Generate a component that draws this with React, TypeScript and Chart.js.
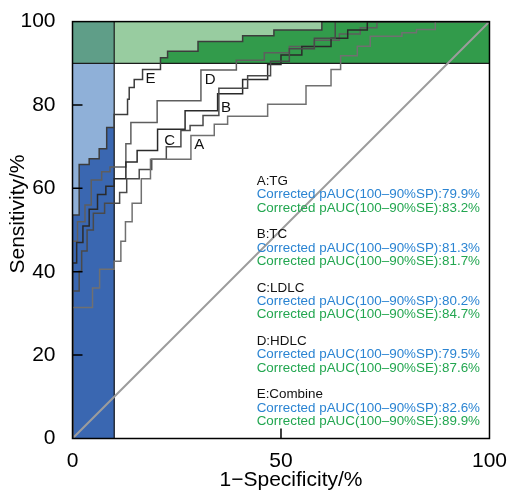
import { useEffect, useRef } from 'react';
import { Chart, registerables } from 'chart.js';
Chart.register(...registerables);

// ROC step points (1-Specificity %, Sensitivity %)
const aFpr = [0, 4.8, 6.5, 10, 11.6, 12.7, 14.3, 16.5, 18.7, 28.4, 34, 37.2, 46.8, 56, 62, 64.3, 68.3, 71.4, 79, 82.5, 87, 100];
const aTpr = [31.4, 36.1, 40.6, 42.5, 47.3, 52, 56.4, 62.3, 67, 72.7, 75.4, 77.3, 80.2, 84.6, 88.5, 91.8, 94.1, 96.5, 97.3, 98.1, 100, 100];

const bFpr = [0, 1.6, 2.2, 3.5, 5, 7.7, 11.3, 13, 16, 19, 22.5, 26, 28.2, 31.3, 35.1, 42, 47.5, 52, 58, 63, 100];
const bTpr = [35.4, 40.1, 45, 50, 54, 56.4, 59, 62.3, 64.5, 67, 70, 73.9, 75.1, 77.5, 84, 87, 90.5, 93.5, 96, 100, 100];

const cFpr = [0, 1, 2.5, 4, 6, 8, 10, 12.8, 15.5, 20.4, 27, 34.8, 40.8, 46.8, 50, 55, 62, 66, 70.7, 100];
const cTpr = [42.1, 47, 51, 55, 58.5, 60.5, 62.3, 66.3, 69.1, 74.2, 78.6, 82.7, 86.1, 89.7, 92, 94, 96, 98, 100, 100];

const dFpr = [0, 1.2, 3, 4.5, 7, 9, 12.8, 14, 20.3, 30.8, 39.3, 46, 52, 58, 64, 69, 73, 100];
const dTpr = [47.3, 52, 56, 62, 64, 65.1, 70.7, 75.8, 81, 88.4, 90.7, 92.5, 94, 95.5, 97, 98.5, 100, 100];

const eFpr = [0, 1.6, 4, 6.4, 8.2, 10, 13.2, 13.6, 14.8, 16.8, 21.1, 22.8, 30.1, 40.8, 48.3, 59.8, 100];
const eTpr = [53.6, 65.7, 67.1, 69.5, 74.6, 77.7, 81.4, 84.2, 86.1, 88.5, 91.3, 92.9, 95.2, 96.6, 98, 100, 100];

const curveLetters = ['A', 'B', 'C', 'D', 'E'];
const curveNames = ['A:TG', 'B:TC', 'C:LDLC', 'D:HDLC', 'E:Combine'];
const spPauc = ['79.9', '81.3', '80.2', '79.5', '82.6'];
const sePauc = ['83.2', '81.7', '84.7', '87.6', '89.9'];
// letter anchor (data coords) for each curve label
const letterX = [30.4, 36.8, 23.3, 33.0, 18.7];
const letterY = [70.5, 79.3, 71.4, 86.0, 86.2];

const xTicks = [0, 50, 100];
const yTicks = [0, 20, 40, 60, 80, 100];
const spRange = [0, 10];   // 100-90% specificity -> x 0..10
const seRange = [90, 100]; // 100-90% sensitivity -> y 90..100

const lineColors = ['#707070', '#4a4a4a', '#2a2a2a', '#5e5e5e', '#3c3c3c'];
const LIGHT_BLUE = '#8fb0d8';
const DARK_BLUE = '#3a67b1';
const LIGHT_GREEN = '#98cca0';
const DARK_GREEN = '#329b4b';
const TEAL = '#5f9e88';
const TXT_BLUE = '#2a84d2';
const TXT_GREEN = '#22a650';
const FONT = "'Liberation Sans', Arial, Helvetica, sans-serif";

function steps(fpr: number[], tpr: number[]) {
  const pts: { x: number; y: number }[] = [{ x: 0, y: 0 }];
  let prev = 0;
  for (let i = 0; i < fpr.length; i++) {
    pts.push({ x: fpr[i], y: prev });
    pts.push({ x: fpr[i], y: tpr[i] });
    prev = tpr[i];
  }
  return pts;
}

const curves = [
  steps(aFpr, aTpr),
  steps(bFpr, bTpr),
  steps(cFpr, cTpr),
  steps(dFpr, dTpr),
  steps(eFpr, eTpr),
];

const bgPlugin = {
  id: 'pauc',
  beforeDatasetsDraw(chart: any) {
    const { ctx, scales } = chart;
    const X = (v: number) => scales.x.getPixelForValue(v);
    const Y = (v: number) => scales.y.getPixelForValue(v);
    ctx.save();
    ctx.fillStyle = LIGHT_BLUE;
    ctx.fillRect(X(spRange[0]), Y(100), X(spRange[1]) - X(spRange[0]), Y(0) - Y(100));
    ctx.fillStyle = LIGHT_GREEN;
    ctx.fillRect(X(0), Y(seRange[1]), X(100) - X(0), Y(seRange[0]) - Y(seRange[1]));
    ctx.fillStyle = TEAL;
    ctx.fillRect(X(spRange[0]), Y(seRange[1]), X(spRange[1]) - X(spRange[0]), Y(seRange[0]) - Y(seRange[1]));

    const underPath = (pts: { x: number; y: number }[]) => {
      ctx.beginPath();
      ctx.moveTo(X(0), Y(0));
      pts.forEach((p) => ctx.lineTo(X(p.x), Y(p.y)));
      ctx.lineTo(X(100), Y(0));
      ctx.closePath();
    };
    curves.forEach((pts) => {
      ctx.save();
      ctx.beginPath();
      ctx.rect(X(spRange[0]), Y(100), X(spRange[1]) - X(spRange[0]), Y(0) - Y(100));
      ctx.clip();
      underPath(pts);
      ctx.fillStyle = DARK_BLUE;
      ctx.fill();
      ctx.restore();

      ctx.save();
      ctx.beginPath();
      ctx.rect(X(0), Y(seRange[1]), X(100) - X(0), Y(seRange[0]) - Y(seRange[1]));
      ctx.clip();
      underPath(pts);
      ctx.fillStyle = DARK_GREEN;
      ctx.fill();
      ctx.restore();
    });

    ctx.strokeStyle = '#1c1c1c';
    ctx.lineWidth = 1.2;
    ctx.beginPath();
    ctx.moveTo(X(spRange[1]), Y(0));
    ctx.lineTo(X(spRange[1]), Y(100));
    ctx.moveTo(X(0), Y(seRange[0]));
    ctx.lineTo(X(100), Y(seRange[0]));
    ctx.stroke();
    ctx.restore();
  },
  afterDraw(chart: any) {
    const { ctx, scales, chartArea } = chart;
    const X = (v: number) => scales.x.getPixelForValue(v);
    const Y = (v: number) => scales.y.getPixelForValue(v);
    ctx.save();
    // frame
    ctx.strokeStyle = '#000';
    ctx.lineWidth = 1.5;
    ctx.strokeRect(chartArea.left, chartArea.top, chartArea.right - chartArea.left, chartArea.bottom - chartArea.top);
    // inward ticks
    ctx.beginPath();
    yTicks.slice(1, -1).forEach((v) => {
      ctx.moveTo(chartArea.left, Y(v));
      ctx.lineTo(chartArea.left + 10, Y(v));
    });
    xTicks.slice(1, -1).forEach((v) => {
      ctx.moveTo(X(v), chartArea.bottom);
      ctx.lineTo(X(v), chartArea.bottom - 10);
    });
    ctx.stroke();

    // curve letters
    ctx.fillStyle = '#111';
    ctx.font = `15px ${FONT}`;
    ctx.textAlign = 'center';
    ctx.textBaseline = 'middle';
    curveLetters.forEach((l, i) => ctx.fillText(l, X(letterX[i]), Y(letterY[i])));

    // annotations
    ctx.textAlign = 'left';
    ctx.textBaseline = 'alphabetic';
    ctx.font = `13.4px ${FONT}`;
    const tx = 256.7;
    curveNames.forEach((name, i) => {
      const by = 185 + 53.3 * i;
      ctx.fillStyle = '#111';
      ctx.fillText(name, tx, by);
      ctx.fillStyle = TXT_BLUE;
      ctx.fillText(`Corrected pAUC(100\u201390%SP):${spPauc[i]}%`, tx, by + 13.3);
      ctx.fillStyle = TXT_GREEN;
      ctx.fillText(`Corrected pAUC(100\u201390%SE):${sePauc[i]}%`, tx, by + 26.6);
    });

    // axis titles
    ctx.fillStyle = '#000';
    ctx.font = `21px ${FONT}`;
    ctx.textAlign = 'center';
    ctx.fillText('1\u2212Specificity/%', 291, 486);
    ctx.translate(23.5, 214);
    ctx.rotate(-Math.PI / 2);
    ctx.fillText('Sensitivity/%', 0, 0);
    ctx.restore();
  },
};

export default function App() {
  const ref = useRef<HTMLCanvasElement>(null);
  useEffect(() => {
    document.body.style.margin = '0';
    const canvas = ref.current!;
    const datasets: any[] = curves.map((pts, i) => ({
      label: curveNames[i],
      data: pts,
      showLine: true,
      borderColor: lineColors[i],
      borderWidth: 1.5,
      pointRadius: 0,
      fill: false,
      tension: 0,
    }));
    datasets.push({
      label: 'ref',
      data: [{ x: 0, y: 0 }, { x: 100, y: 100 }],
      showLine: true,
      borderColor: '#9c9c9c',
      borderWidth: 2,
      pointRadius: 0,
      fill: false,
    });
    const chart = new Chart(canvas, {
      type: 'scatter',
      data: { datasets },
      plugins: [bgPlugin],
      options: {
        animation: false,
        responsive: false,
        devicePixelRatio: 1,
        layout: { padding: { top: 19, right: 17, left: 0, bottom: 0 } },
        plugins: { legend: { display: false }, tooltip: { enabled: false } },
        scales: {
          x: {
            type: 'linear',
            min: 0,
            max: 100,
            grid: { display: false },
            border: { display: false },
            afterFit: (s: any) => { s.height = 51.5; },
            afterBuildTicks: (s: any) => { s.ticks = xTicks.map((v) => ({ value: v })); },
            ticks: { color: '#000', padding: 2, font: { family: FONT, size: 21 } },
          },
          y: {
            type: 'linear',
            min: 0,
            max: 100,
            grid: { display: false },
            border: { display: false },
            afterFit: (s: any) => { s.width = 72.5; },
            afterBuildTicks: (s: any) => { s.ticks = yTicks.map((v) => ({ value: v })); },
            ticks: { color: '#000', padding: 9, font: { family: FONT, size: 21 } },
          },
        },
      } as any,
    });
    return () => chart.destroy();
  }, []);
  return <canvas ref={ref} width={509} height={490} style={{ display: 'block' }} />;
}
